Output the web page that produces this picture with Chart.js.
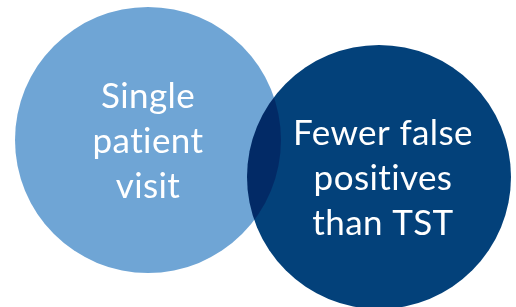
<!DOCTYPE html>
<html>
<head>
<meta charset="utf-8">
<script src="https://cdn.jsdelivr.net/npm/chart.js@4"></script>
<style>
  html, body { margin: 0; padding: 0; background: #fff; }
</style>
</head>
<body>
<canvas id="venn" width="516" height="307"></canvas>
<script>
// Venn sets: centre and radius in chart units (1 unit = 1 px)
const sets = ['Single patient visit', 'Fewer false positives than TST'];
const setLines = [['Single', 'patient', 'visit'], ['Fewer false', 'positives', 'than TST']];
const centerX = [148, 379];
const centerY = [140, 177];
const radius = [133, 132];
const fills = ['#6fa5d5', '#03417a'];

// draw overlap with multiply so the lens comes out darker than both circles
const multiplyPlugin = {
    id: 'multiply',
    beforeDatasetDraw(chart, args) {
        chart.ctx.globalCompositeOperation = args.index === 0 ? 'multiply' : 'source-over';
    },
    afterDatasetDraw(chart) {
        chart.ctx.globalCompositeOperation = 'source-over';
    },
};

// white labels inside each circle
const labelPlugin = {
    id: 'vennLabels',
    afterDatasetsDraw(chart) {
        const ctx = chart.ctx;
        const xs = chart.scales.x, ys = chart.scales.y;
        ctx.save();
        ctx.fillStyle = '#ffffff';
        ctx.font = '35px Lato';
        ctx.letterSpacing = '0.4px'; // also stops the "ti" ligature
        ctx.textAlign = 'center';
        ctx.textBaseline = 'alphabetic';
        setLines.forEach((lines, i) => {
            const cx = xs.getPixelForValue(centerX[i]);
            const cy = ys.getPixelForValue(centerY[i]);
            lines.forEach((line, j) => {
                ctx.fillText(line, cx + (i === 1 ? 4 : 0), cy + 13 + (j - 1) * 45);
            });
        });
        ctx.restore();
    },
};

const ctx = document.getElementById('venn').getContext('2d');
const chart = new Chart(ctx, {
    type: 'bubble',
    data: {
        datasets: sets.map((name, i) => ({
            label: name,
            data: [{ x: centerX[i], y: centerY[i], r: radius[i] }],
            backgroundColor: fills[i],
            borderWidth: 0,
            clip: false,
        })),
    },
    options: {
        responsive: false,
        animation: false,
        layout: { padding: 0, autoPadding: false },
        scales: {
            x: { type: 'linear', min: 0, max: 516, display: false },
            y: { type: 'linear', min: 0, max: 307, reverse: true, display: false },
        },
        plugins: {
            legend: { display: false },
            tooltip: { enabled: false },
        },
    },
    plugins: [multiplyPlugin, labelPlugin],
});
</script>
</body>
</html>
